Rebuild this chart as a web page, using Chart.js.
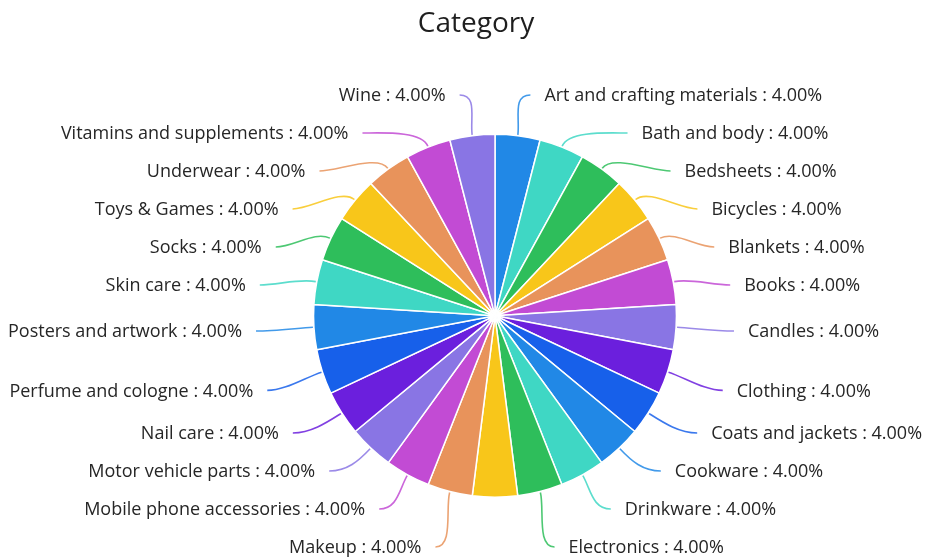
<!DOCTYPE html>
<html>
<head>
<meta charset="utf-8">
<title>Category</title>
<script src="https://cdn.jsdelivr.net/npm/chart.js@4.4.1/dist/chart.umd.min.js"></script>
<style>
  html, body { margin: 0; padding: 0; background: #ffffff; }
  #wrap { width: 927px; height: 560px; }
</style>
</head>
<body>
<div id="wrap"><canvas id="myChart" width="927" height="560"></canvas></div>
<script>
// #-------------- Chart data --------------#

const categories = [
    'Art and crafting materials', 'Bath and body', 'Bedsheets', 'Bicycles', 'Blankets',
    'Books', 'Candles', 'Clothing', 'Coats and jackets', 'Cookware',
    'Drinkware', 'Electronics', 'Jewelry', 'Makeup', 'Mobile phone accessories',
    'Motor vehicle parts', 'Nail care', 'Perfume and cologne', 'Posters and artwork', 'Skin care',
    'Socks', 'Toys & Games', 'Underwear', 'Vitamins and supplements', 'Wine'
];
const values = [
    4, 4, 4, 4, 4,
    4, 4, 4, 4, 4,
    4, 4, 4, 4, 4,
    4, 4, 4, 4, 4,
    4, 4, 4, 4, 4
];
// label of this slice is not shown in the original (it collided at the bottom)
const hiddenLabels = ['Jewelry'];

const palette = ['#2188e6', '#3fd7c4', '#2ebe5b', '#f8c61a', '#e8935b',
                 '#c24bd4', '#8975e4', '#6b1fdd', '#1760ea'];
const sliceColors = categories.map((c, i) => palette[i % palette.length]);

// #-------------- Outside labels with curved connectors --------------#

const labelTop = 95;
const labelBottom = 547;
const labelGap = 38;
const labelFont = "18px 'Open Sans', 'Noto Sans', sans-serif";

function spreadLabels(list) {
    list.sort((a, b) => a.ny - b.ny);
    list.forEach((it, k) => {
        let y = Math.min(Math.max(it.ny, labelTop), labelBottom);
        if (k > 0) y = Math.max(y, list[k - 1].y + labelGap);
        it.y = y;
    });
    for (let k = list.length - 1; k >= 0; k--) {
        let y = Math.min(list[k].y, labelBottom);
        if (k < list.length - 1) y = Math.min(y, list[k + 1].y - labelGap);
        list[k].y = y;
    }
}

const outsideLabels = {
    id: 'outsideLabels',
    afterLayout(chart) {
        // the title sits a little left of the pie centre
        chart.titleBlock.left = 25;
        chart.titleBlock.right = 927;
    },
    afterDraw(chart) {
        const ctx = chart.ctx;
        const meta = chart.getDatasetMeta(0);
        const total = values.reduce((a, b) => a + b, 0);
        const left = [], right = [];

        meta.data.forEach((arc, i) => {
            if (hiddenLabels.includes(categories[i])) return;
            const p = arc.getProps(['x', 'y', 'startAngle', 'endAngle', 'outerRadius'], true);
            const mid = (p.startAngle + p.endAngle) / 2;
            const fromTop = mid + Math.PI / 2;
            const item = { i, p, mid, fromTop, ny: p.y - (p.outerRadius + 60) * Math.cos(fromTop) };
            (Math.sin(fromTop) >= 0 ? right : left).push(item);
        });
        spreadLabels(left);
        spreadLabels(right);

        ctx.save();
        ctx.font = labelFont;
        ctx.textBaseline = 'middle';
        [right, left].forEach((list, side) => {
            const sign = side === 0 ? 1 : -1;
            list.forEach(it => {
                const { x: cx, y: cy, outerRadius: r } = it.p;
                const a = r + 49, b = r + 42;
                const dy = it.y - cy;
                const ell = Math.abs(dy) < b ? a * Math.sqrt(1 - (dy / b) * (dy / b)) : 0;
                const e = Math.max(ell, (r + 58) * Math.abs(Math.sin(it.fromTop)));
                const ex = cx + sign * e, ey = it.y;
                const cos = Math.cos(it.mid), sin = Math.sin(it.mid);

                ctx.strokeStyle = sliceColors[it.i];
                ctx.globalAlpha = 0.85;
                ctx.lineWidth = 1.6;
                ctx.beginPath();
                ctx.moveTo(cx + (r + 1) * cos, cy + (r + 1) * sin);
                ctx.bezierCurveTo(cx + (r + 18) * cos, cy + (r + 18) * sin,
                                  ex - sign * 18, ey, ex, ey);
                ctx.stroke();

                ctx.globalAlpha = 1;
                ctx.fillStyle = '#262626';
                ctx.textAlign = sign > 0 ? 'left' : 'right';
                const pct = (values[it.i] / total * 100).toFixed(2);
                ctx.fillText(`${categories[it.i]} : ${pct}%`, ex + sign * 14, ey + 1);
            });
        });
        ctx.restore();
    }
};

// #-------------- Build chart --------------#

const chart = document.getElementById('myChart').getContext('2d');
new Chart(chart, {
    type: 'pie',
    data: {
        labels: categories,
        datasets: [{
            data: values,
            backgroundColor: sliceColors,
            borderColor: '#ffffff',
            borderWidth: 1.5,
        }],
    },
    options: {
        responsive: false,
        animation: false,
        layout: { padding: { left: 63, right: 0, top: 0, bottom: 62 } },
        plugins: {
            legend: { display: false },
            tooltip: { enabled: false },
            title: {
                display: true,
                text: 'Category',
                color: '#1e1e1e',
                font: { size: 28, family: "'Open Sans', 'Noto Sans', sans-serif", weight: 'normal' },
                padding: { top: 7, bottom: 93 },
            },
        },
    },
    plugins: [outsideLabels],
});
</script>
</body>
</html>
